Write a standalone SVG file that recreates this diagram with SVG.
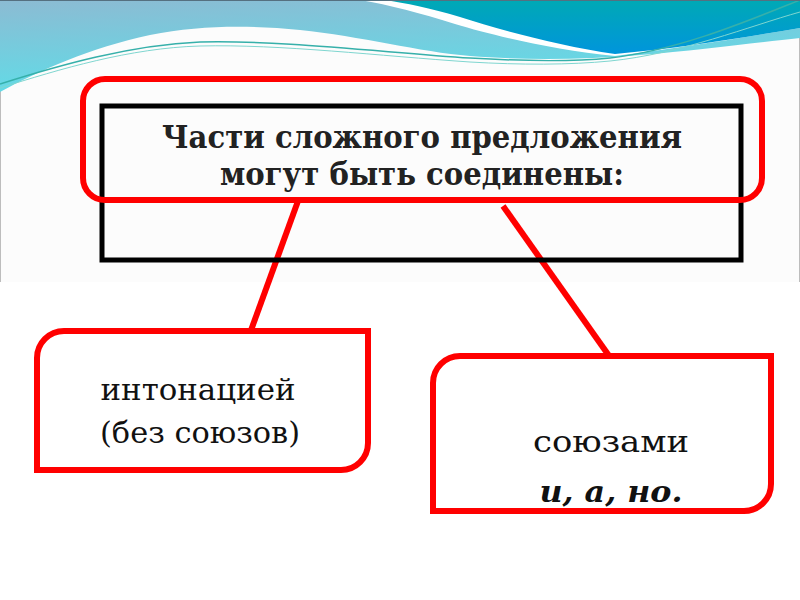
<svg xmlns="http://www.w3.org/2000/svg" width="800" height="600" viewBox="0 0 800 600">
  <defs>
    <linearGradient id="lb" x1="0" y1="0" x2="0.3" y2="1">
      <stop offset="0" stop-color="#8cbbd3"/>
      <stop offset="1" stop-color="#5fdde8"/>
    </linearGradient>
    <linearGradient id="tl" x1="0" y1="0" x2="0" y2="1">
      <stop offset="0" stop-color="#00a9b5"/>
      <stop offset="1" stop-color="#0095dc"/>
    </linearGradient>
    <style>
      .red { fill: #fff; stroke: #ff0000; stroke-width: 6; }
      .conn { stroke: #ff0000; stroke-width: 6; fill: none; }
      .head { font-family: "DejaVu Serif", "Liberation Serif", serif; font-weight: bold; font-size: 32px; fill: #222; text-anchor: middle; }
      .lbl { font-family: "DejaVu Serif", "Liberation Serif", serif; font-size: 30px; fill: #111; text-anchor: middle; }
      .bi { font-weight: bold; font-style: italic; }
    </style>
  </defs>

  <!-- background -->
  <rect x="0" y="0" width="800" height="600" fill="#fff"/>
  <rect x="0" y="0" width="800" height="282" fill="#fcfcfc"/>
  <line x1="0.5" y1="0" x2="0.5" y2="282" stroke="#bdbdbd" stroke-width="1"/>
  <line x1="799.5" y1="0" x2="799.5" y2="282" stroke="#bdbdbd" stroke-width="1"/>
  <path d="M0,0 H800 V38 C760,42 700,50 640,55 C580,60 520,60 470,56 C420,52 360,36 300,30 C250,25 200,25 150,35 C90,48 40,70 0,92 Z" fill="url(#lb)"/>
  <path d="M360,0 H800 V28 C740,38 680,48 615,56 C555,50 495,36 455,24 C420,13 390,5 360,0 Z" fill="#fff"/>
  <path d="M385,0 H800 V28 C740,38 680,48 615,54 C560,46 500,30 460,17 C430,8 405,3 385,0 Z" fill="url(#tl)"/>
  <path d="M0,84 C60,65 130,45 200,42 C280,40 380,52 470,58 C520,61 570,62 610,58 C680,50 750,20 800,0" fill="none" stroke="#36b0aa" stroke-width="1.5"/>
  <path d="M0,88 C60,69 130,48 200,46 C280,44 380,56 470,62 C520,65 570,65 610,61 C680,54 750,26 800,12" fill="none" stroke="#7fd6d0" stroke-width="1"/>
  <line x1="0" y1="0.5" x2="800" y2="0.5" stroke="#557080" stroke-width="1"/>

  <!-- connectors -->
  <g id="connectors">
    <line class="conn" x1="298" y1="201" x2="250" y2="333"/>
    <line class="conn" x1="503" y1="206" x2="612" y2="360"/>
  </g>

  <!-- header node -->
  <g id="header">
    <rect x="102" y="106" width="639" height="154" fill="none" stroke="#000" stroke-width="5"/>
    <rect x="83" y="79" width="679" height="121" rx="22" ry="22" fill="none" stroke="#ff0000" stroke-width="6"/>
    <text class="head" x="422" y="148" textLength="520" lengthAdjust="spacingAndGlyphs">Части сложного предложения</text>
    <text class="head" x="422" y="185" textLength="404" lengthAdjust="spacingAndGlyphs">могут быть соединены:</text>
  </g>

  <!-- left node -->
  <g id="intonation">
    <path class="red" d="M64,331 H368 V443 A27,27 0 0 1 341,470 H37 V358 A27,27 0 0 1 64,331 Z"/>
    <text class="lbl" x="198" y="400" textLength="195" lengthAdjust="spacingAndGlyphs">интонацией</text>
    <text class="lbl" x="200" y="443" textLength="200" lengthAdjust="spacingAndGlyphs">(без союзов)</text>
  </g>

  <!-- right node -->
  <g id="conjunctions">
    <path class="red" d="M460,356 H771 V484 A27,27 0 0 1 744,511 H433 V383 A27,27 0 0 1 460,356 Z"/>
    <text class="lbl" x="611" y="452" textLength="156" lengthAdjust="spacingAndGlyphs">союзами</text>
    <text class="lbl bi" x="611" y="502" textLength="143" lengthAdjust="spacingAndGlyphs">и, а, но.</text>
  </g>
</svg>
